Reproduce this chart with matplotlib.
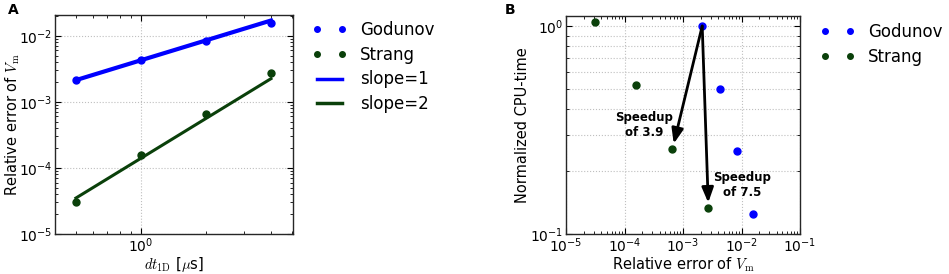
import numpy as np
import matplotlib
matplotlib.use("Agg")
import matplotlib.pyplot as plt
from matplotlib.lines import Line2D
from matplotlib.ticker import LogLocator, NullFormatter

plt.rcParams['font.family'] = ['DejaVu Sans']
plt.rcParams['mathtext.fontset'] = 'cm'
plt.rcParams['xtick.direction'] = 'in'
plt.rcParams['ytick.direction'] = 'in'
plt.rcParams['xtick.top'] = True
plt.rcParams['ytick.right'] = True

# ---- data ----
dt = [0.5, 1.0, 2.0, 4.0]                       # dt_1D [us]
err_godunov = [2.13e-3, 4.24e-3, 8.3e-3, 1.56e-2]
err_strang = [3.1e-5, 1.56e-4, 6.6e-4, 2.72e-3]
slope_x = [0.5, 4.0]
slope1_y = [2.13e-3, 1.70e-2]
slope2_y = [3.5e-5, 2.24e-3]

cpu_godunov = [1.0, 0.5, 0.25, 0.125]
cpu_strang = [1.04, 0.52, 0.256, 0.133]
speedup_labels = ["Speedup\nof 3.9", "Speedup\nof 7.5"]
speedup_targets = [2, 3]   # indices of Strang points
speedup_text_pos = [(2.2e-4, 0.335), (1.02e-2, 0.172)]

blue = '#0000ff'
green = '#0a400a'

W, H = 949, 274
fig = plt.figure(figsize=(W / 100, H / 100), dpi=100)

def rect(l, r, t, b):
    return [l / W, 1 - b / H, (r - l) / W, (b - t) / H]

axA = fig.add_axes(rect(55, 293, 15, 234))
axB = fig.add_axes(rect(566, 800, 16, 234))

tick_fs = 10
lab_fs = 10.5

# ---- Panel A ----
axA.plot(slope_x, slope1_y, color=blue, lw=3, label='slope=1', zorder=2)
axA.plot(slope_x, slope2_y, color=green, lw=2.2, label='slope=2', zorder=2)
axA.plot(dt, err_godunov, 'o', color=blue, mec=blue, ms=5, label='Godunov', zorder=3)
axA.plot(dt, err_strang, 'o', color=green, mec=green, ms=5, label='Strang', zorder=3)
axA.set_xscale('log')
axA.set_yscale('log')
axA.set_xlim(0.4, 5.06)
axA.set_ylim(1e-5, 2.06e-2)
axA.grid(True, which='major', color='0.75', linestyle=':', lw=0.8)
axA.set_xlabel(r'$dt_{\mathrm{1D}}$ [$\mu$s]', fontsize=lab_fs, labelpad=0)
axA.set_ylabel(r'Relative error of $V_{\mathrm{m}}$', fontsize=lab_fs, labelpad=-2)

# ---- Panel B ----
axB.plot(err_godunov, cpu_godunov, 'o', color=blue, mec=blue, ms=5, label='Godunov', zorder=3)
axB.plot(err_strang, cpu_strang, 'o', color=green, mec=green, ms=5, label='Strang', zorder=3)
axB.set_xscale('log')
axB.set_yscale('log')
axB.set_xlim(1e-5, 1e-1)
axB.set_ylim(0.1, 1.117)
axB.grid(True, which='major', color='0.75', linestyle=':', lw=0.8)
axB.grid(True, which='minor', axis='y', color='0.75', linestyle=':', lw=0.8)
axB.set_xlabel(r'Relative error of $V_{\mathrm{m}}$', fontsize=lab_fs, labelpad=0)
axB.set_ylabel('Normalized CPU-time', fontsize=lab_fs, labelpad=0)
axB.yaxis.set_minor_formatter(NullFormatter())
axB.xaxis.set_major_locator(LogLocator(base=10, numticks=10))

for idx, lab, pos in zip(speedup_targets, speedup_labels, speedup_text_pos):
    axB.annotate('', xy=(err_strang[idx], cpu_strang[idx]),
                 xytext=(err_godunov[0], cpu_godunov[0]),
                 arrowprops=dict(arrowstyle='-|>,head_width=0.35,head_length=0.9',
                                 lw=2, color='black', shrinkA=0, shrinkB=4),
                 zorder=4)
    axB.text(pos[0], pos[1], lab, ha='center', va='center', fontsize=8.5,
             fontweight='bold', linespacing=1.2, zorder=5)

for ax in (axA, axB):
    ax.tick_params(which='major', labelsize=tick_fs, length=4, width=0.8, pad=2)
    ax.tick_params(which='minor', length=2, width=0.6)
    for s in ax.spines.values():
        s.set_linewidth(1.0)
        s.set_color('0.15')

# ---- Legends ----
hA = [Line2D([], [], ls='none', marker='o', color=blue, ms=4),
      Line2D([], [], ls='none', marker='o', color=green, ms=4),
      Line2D([], [], color=blue, lw=2.5),
      Line2D([], [], color=green, lw=2.5)]
fig.legend(hA, ['Godunov', 'Strang', 'slope=1', 'slope=2'], loc='upper left',
           bbox_to_anchor=(312 / W, 1 - 21 / H), frameon=False, fontsize=12,
           numpoints=2, handlelength=2.1, handletextpad=0.8, labelspacing=0.4,
           borderpad=0, borderaxespad=0)
hB = hA[:2]
fig.legend(hB, ['Godunov', 'Strang'], loc='upper left',
           bbox_to_anchor=(820 / W, 1 - 23 / H), frameon=False, fontsize=12,
           numpoints=2, handlelength=2.1, handletextpad=0.8, labelspacing=0.4,
           borderpad=0, borderaxespad=0)

fig.text(8 / W, 1 - 10 / H, 'A', fontsize=10, fontweight='bold', va='center', ha='left')
fig.text(505 / W, 1 - 10 / H, 'B', fontsize=10, fontweight='bold', va='center', ha='left')

fig.savefig('out.png', dpi=100)
